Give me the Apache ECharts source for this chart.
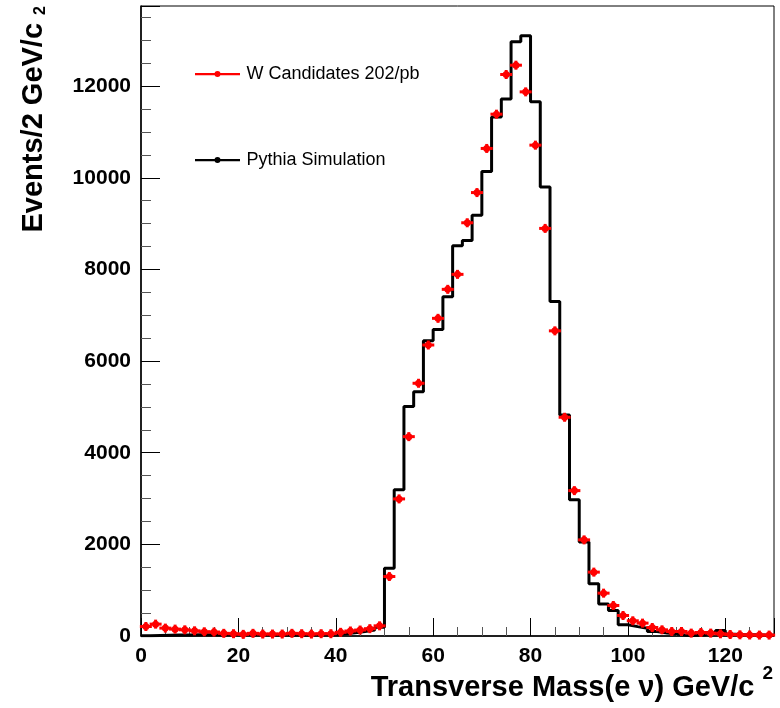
<!DOCTYPE html>
<html>
<head>
<meta charset="utf-8">
<title>W transverse mass</title>
<script src="https://cdn.jsdelivr.net/npm/echarts@6.0.0/dist/echarts.min.js"></script>
<style>
  html, body { margin: 0; padding: 0; background: #fff; }
  #chart { width: 780px; height: 708px; }
</style>
</head>
<body>
<div id="chart"></div>
<script>
// bins of 2 GeV/c^2 from 0 to 130
const binWidth = 2;
const xMin = 0;
const xMax = 130;

// Pythia simulation, one value per bin (black histogram)
const simCounts = [
  5, 10, 15, 20, 20, 25, 30, 30, 35, 40,
  40, 35, 35, 30, 30, 30, 30, 35, 35, 40,
  50, 70, 100, 130, 190, 1480, 3190, 5010, 5330, 6445,
  6690, 7405, 8520, 8630, 9185, 10140, 11330, 11720, 12970, 13100,
  11660, 9800, 7300, 4825, 2975, 2050, 1140, 700, 555, 245,
  205, 170, 100, 65, 50, 15, 15, 25, 70, 120,
  40, 30, 25, 20, 15
];

// W candidates 202/pb, one value per bin (red points)
const dataCounts = [
  207, 259, 172, 150, 135, 113, 92, 87, 58, 50,
  36, 58, 43, 43, 43, 58, 50, 43, 50, 50,
  80, 109, 130, 160, 222, 1298, 2992, 4351, 5516, 6351,
  6933, 7566, 7893, 9019, 9678, 10641, 11389, 12255, 12458, 11876,
  10713, 8896, 6660, 4774, 3173, 2098, 1394, 935, 666, 448,
  332, 281, 186, 135, 98, 98, 63, 77, 63, 48,
  33, 26, 22, 20, 20
];

const seriesNames = ['W Candidates 202/pb', 'Pythia Simulation'];
const yMax = 13750;

// step histogram points at the left edge of every bin, plus closing edge
const histPoints = simCounts.map((v, i) => [xMin + i * binWidth, v]);
histPoints.push([xMax, simCounts[simCounts.length - 1]]);

// data points at bin centres
const dataPoints = dataCounts.map((v, i) => [xMin + i * binWidth + binWidth / 2, v]);

const font = '"Liberation Sans", Arial, Helvetica, sans-serif';
const red = '#ff0000';
const legendIcon = 'path://M0,2h48v2.5h-48z M24,0a3.2,3.2 0 1,1 0,6.4a3.2,3.2 0 1,1 0,-6.4z';
const plain = v => String(v);

const chart = echarts.init(document.getElementById('chart'), null, { renderer: 'canvas' });

chart.setOption({
  animation: false,
  backgroundColor: '#fff',
  grid: {
    left: 141, right: 6, top: 6, bottom: 72,
    containLabel: false,
    outerBoundsMode: 'none',
    show: true, borderColor: '#000', borderWidth: 1
  },
  legend: {
    orient: 'vertical',
    left: 190, top: 60,
    itemWidth: 48, itemHeight: 6, itemGap: 68,
    textStyle: { fontFamily: font, fontSize: 18, color: '#000' },
    data: [
      { name: seriesNames[0], icon: legendIcon },
      { name: seriesNames[1], icon: legendIcon }
    ]
  },
  // x axis title, right-aligned under the axis end
  graphic: [
    {
      type: 'text',
      x: 773, y: 664,
      style: {
        text: '{t|Transverse Mass(e ν) GeV/c }{s|2}',
        align: 'right', verticalAlign: 'top',
        rich: {
          t: { fontFamily: font, fontWeight: 'bold', fontSize: 29, lineHeight: 47, fill: '#000' },
          s: { fontFamily: font, fontWeight: 'bold', fontSize: 19, lineHeight: 19, fill: '#000', verticalAlign: 'top' }
        }
      }
    }
  ],
  xAxis: {
    type: 'value',
    min: xMin, max: xMax, interval: 20,
    axisLine: { lineStyle: { color: '#000', width: 1.5 } },
    axisTick: { inside: true, length: 18, lineStyle: { color: '#000', width: 1 } },
    minorTick: { show: true, splitNumber: 4, length: 9, lineStyle: { color: '#555', width: 1 } },
    splitLine: { show: false },
    axisLabel: {
      margin: 10, showMaxLabel: false, formatter: plain,
      fontFamily: font, fontWeight: 'bold', fontSize: 21, color: '#000'
    }
  },
  yAxis: {
    type: 'value',
    min: 0, max: yMax, interval: 2000,
    name: '{t|Events/2 GeV/c }{s|2}',
    nameLocation: 'end',
    nameGap: 0,
    nameRotate: 90,
    nameTextStyle: {
      align: 'right', verticalAlign: 'bottom',
      padding: [0, 0, 92, 0],
      rich: {
        t: { fontFamily: font, fontWeight: 'bold', fontSize: 29, lineHeight: 30, color: '#000' },
        s: { fontFamily: font, fontWeight: 'bold', fontSize: 16, lineHeight: 16, color: '#000', verticalAlign: 'bottom' }
      }
    },
    axisLine: { show: true, lineStyle: { color: '#000', width: 1.5 } },
    axisTick: { inside: true, length: 19, lineStyle: { color: '#000', width: 1 } },
    minorTick: { show: true, splitNumber: 4, length: 10, lineStyle: { color: '#555', width: 1 } },
    splitLine: { show: false },
    axisLabel: {
      margin: 10, showMaxLabel: false, formatter: plain,
      fontFamily: font, fontWeight: 'bold', fontSize: 21, color: '#000'
    }
  },
  series: [
    {
      name: seriesNames[1],
      type: 'line',
      step: 'end',
      data: histPoints,
      showSymbol: false,
      symbol: 'circle',
      itemStyle: { color: '#000' },
      lineStyle: { color: '#000', width: 3 },
      z: 2
    },
    {
      name: seriesNames[0],
      type: 'custom',
      data: dataPoints,
      itemStyle: { color: red },
      z: 3,
      renderItem: function (params, api) {
        const p = api.coord([api.value(0), api.value(1)]);
        return {
          type: 'group',
          children: [
            { type: 'line', shape: { x1: p[0] - 6, y1: p[1], x2: p[0] + 6, y2: p[1] }, style: { stroke: red, lineWidth: 3 } },
            { type: 'line', shape: { x1: p[0], y1: p[1] - 4.5, x2: p[0], y2: p[1] + 4.5 }, style: { stroke: red, lineWidth: 3 } },
            { type: 'circle', shape: { cx: p[0], cy: p[1], r: 3.5 }, style: { fill: red } }
          ]
        };
      }
    }
  ]
});

window.addEventListener('resize', () => chart.resize());
</script>
</body>
</html>
